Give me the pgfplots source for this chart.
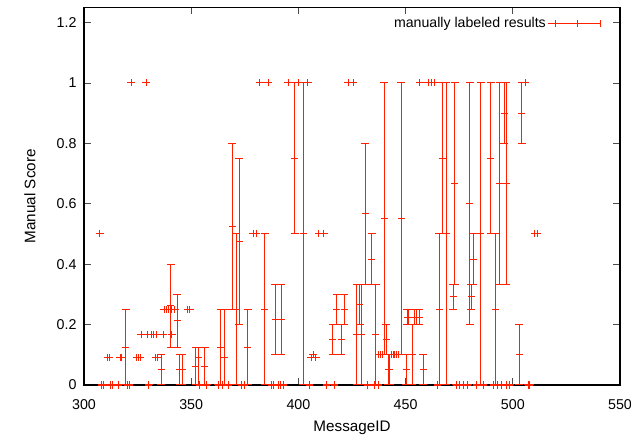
\documentclass[border=0pt]{standalone}
\usepackage{fontspec}
\setmainfont{Liberation Sans}
\usepackage{pgfplots}
\usepackage{pgfplotstable}
\pgfplotsset{compat=1.18}
\definecolor{gpred}{RGB}{255,32,0}
\pgfplotstableread{
x y lo hi
308.2 0 0 0
309.0 0 0 0
312.5 0 0 0
313.2 0 0 0
316.3 0 0 0
320.2 0 0 0
321.1 0 0 0
330.3 0 0 0
354.0 0 0 0
357.2 0 0 0
362.5 0 0 0
364.4 0 0 0
367.5 0 0 0
373.4 0 0 0
375.0 0 0 0
387.5 0 0 0
388.5 0 0 0
390.5 0 0 0
391.5 0 0 0
393.0 0 0 0
405.0 0 0 0
413.2 0 0 0
416.8 0 0 0
432.1 0 0 0
435.6 0 0 0
437.2 0 0 0
465.1 0 0 0
473.7 0 0 0
475.2 0 0 0
476.8 0 0 0
479.1 0 0 0
483.2 0 0 0
486.3 0 0 0
491.0 0 0 0
493.0 0 0 0
494.8 0 0 0
497.2 0 0 0
498.5 0 0 0
507.2 0 0 0
508.0 0 0 0
311.0 0.0909 0.0909 0.0909
311.8 0.0909 0.0909 0.0909
316.8 0.0909 0.0909 0.0909
317.5 0.0909 0.0909 0.0909
324.7 0.0909 0.0909 0.0909
325.4 0.0909 0.0909 0.0909
326.2 0.0909 0.0909 0.0909
333.5 0.0909 0.0909 0.0909
334.3 0.0909 0.0909 0.0909
406.0 0.0909 0.0909 0.0909
407.0 0.1 0.1 0.1
408.0 0.0909 0.0909 0.0909
326.8 0.1667 0.1667 0.1667
329.5 0.1667 0.1667 0.1667
331.5 0.1667 0.1667 0.1667
332.5 0.1667 0.1667 0.1667
333.6 0.1667 0.1667 0.1667
337.0 0.1667 0.1667 0.1667
341.0 0.1667 0.1667 0.1667
337.5 0.25 0.25 0.25
338.6 0.25 0.25 0.25
339.6 0.25 0.25 0.25
341.0 0.25 0.25 0.25
342.4 0.25 0.25 0.25
348.3 0.25 0.25 0.25
349.4 0.25 0.25 0.25
437.5 0.1 0.1 0.1
438.5 0.1 0.1 0.1
439.3 0.1 0.1 0.1
443.3 0.1 0.1 0.1
444.2 0.1 0.1 0.1
445.0 0.1 0.1 0.1
445.8 0.1 0.1 0.1
446.6 0.1 0.1 0.1
307.3 0.5 0.5 0.5
379.0 0.5 0.5 0.5
380.4 0.5 0.5 0.5
409.5 0.5 0.5 0.5
411.8 0.5 0.5 0.5
510.3 0.5 0.5 0.5
511.3 0.5 0.5 0.5
322.1 1 1 1
329.1 1 1 1
382.0 1 1 1
386.0 1 1 1
395.2 1 1 1
400.0 1 1 1
404.3 1 1 1
423.2 1 1 1
425.5 1 1 1
456.7 1 1 1
460.5 1 1 1
462.2 1 1 1
463.5 1 1 1
505.8 1 1 1
319.4 0.125 0 0.25
336.0 0.05 0 0.1
340.4 0.2625 0.125 0.4
343.5 0.2125 0.125 0.3
344.6 0.05 0 0.1
345.8 0.05 0 0.1
352.2 0.0625 0 0.125
353.2 0.0909 0 0.125
356.3 0.0625 0 0.125
363.7 0.125 0 0.25
365.3 0.0909 0 0.25
369.2 0.525 0.25 0.8
371.0 0.25 0 0.5
372.4 0.475 0.2 0.75
376.3 0.125 0 0.25
384.2 0.25 0 0.5
389.2 0.2167 0.1 0.3333
392.1 0.2167 0.1 0.3333
398.2 0.75 0.5 1
402.2 0.5 0 1
416.0 0.15 0.1 0.2
418.0 0.25 0.2 0.3
420.0 0.15 0.1 0.2
421.3 0.25 0.2 0.3
427.1 0.1667 0 0.3333
428.7 0.2667 0.2 0.3333
429.5 0.1667 0 0.3333
431.1 0.5667 0.3333 0.8
434.1 0.4167 0.3333 0.5
436.1 0.1667 0 0.3333
440.1 0.55 0.1 1
441.0 0.15 0.1 0.2
441.9 0.05 0 0.1
442.6 0.05 0 0.1
448.0 0.55 0.1 1
450.2 0.05 0 0.1
450.8 0.225 0.2 0.25
451.5 0.225 0.2 0.25
453.2 0.1 0 0.2
454.1 0.225 0.2 0.25
455.3 0.225 0.2 0.25
456.4 0.225 0.2 0.25
458.2 0.05 0 0.1
465.8 0.25 0 0.5
467.1 0.75 0.5 1
469.0 0.5 0 1
472.2 0.2917 0.25 0.3333
472.9 0.6667 0.3333 1
479.9 0.6 0.2 1
480.6 0.2917 0.25 0.3333
481.5 0.4167 0.3333 0.5
485.0 0.5 0 1
489.8 0.75 0.5 1
491.7 0.25 0 0.5
494.0 0.6667 0.3333 1
495.9 0.9 0.8 1
497.0 0.6667 0.3333 1
503.0 0.1 0 0.2
504.1 0.9 0.8 1
}\scores
\begin{document}
\begin{tikzpicture}
\useasboundingbox (0,0) rectangle (631bp,445bp);
\begin{axis}[
  at={(84bp,60bp)}, anchor=south west,
  scale only axis, width=536bp, height=377.5bp,
  xmin=300, xmax=550, ymin=0, ymax=1.25,
  xtick={300,350,400,450,500,550},
  ytick={0,0.2,0.4,0.6,0.8,1,1.2},
  /pgf/number format/assume math mode=true,
  tick align=inside,
  major tick length=7bp,
  tick style={black!70, line width=0.9bp},
  axis line style={black, line width=1.1bp},
  ticklabel style={font=\fontsize{14.3}{16}\selectfont},
  yticklabel style={xshift=-4bp},
  xticklabel style={yshift=-11bp},
  label style={font=\fontsize{15.3}{17}\selectfont},
  xlabel={MessageID},
  ylabel={Manual Score},
  xlabel style={at={(axis description cs:0.5,-0.1139)}, anchor=center},
  ylabel style={at={(axis description cs:-0.1007,0.5)}, anchor=center},
  legend style={draw=none, fill=none, at={(rel axis cs:1,1)}, anchor=north east,
    xshift=-16bp, yshift=-6bp, legend plot pos=right,
    font=\fontsize{14.2}{16}\selectfont},
  legend image code/.code={
    \path (0bp,0bp) -- (52bp,0bp);
    \draw[gpred, line width=1bp] (7bp,0bp) -- (52bp,0bp);
    \draw[gpred, line width=1bp] (7bp,-3.5bp) -- (7bp,3.5bp);
    \draw[gpred, line width=1bp] (52bp,-3.5bp) -- (52bp,3.5bp);
    \draw[gpred, line width=1bp] (29.5bp,-3.5bp) -- (29.5bp,3.5bp);
  },
]
\addplot[color=gpred, only marks, mark=+, mark size=3.5bp, line width=1bp,
  mark options={line width=1bp, color=gpred},
  error bars/.cd, y dir=both, y explicit,
  error bar style={line width=1bp, color=gpred},
  error mark options={mark size=4bp, line width=1bp, color=gpred, rotate=90}]
  table[x=x, y=y, y error plus expr=\thisrow{hi}-\thisrow{y},
        y error minus expr=\thisrow{y}-\thisrow{lo}] {\scores};
\addlegendentry{manually labeled results}
\end{axis}
\end{tikzpicture}
\end{document}
